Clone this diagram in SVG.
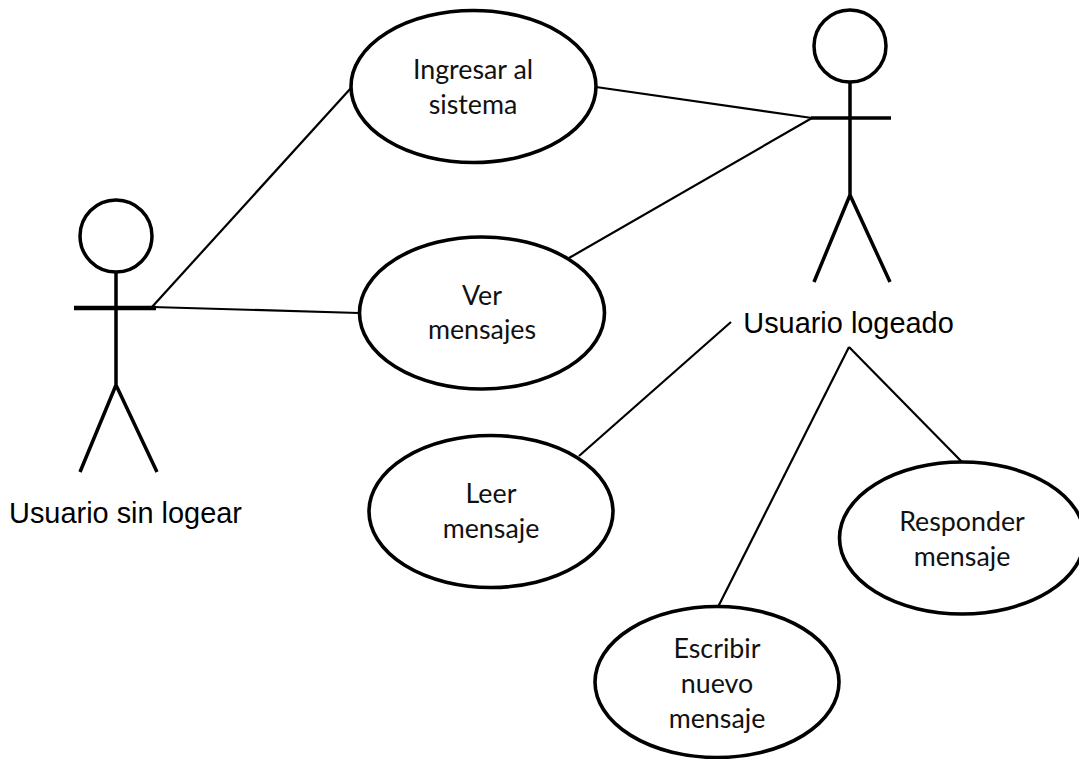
<svg xmlns="http://www.w3.org/2000/svg" width="1079" height="759" viewBox="0 0 1079 759">
<style>
.l{stroke:#000;stroke-width:2.2;fill:none}
.a{stroke:#000;stroke-width:3.5;fill:none}
.b{stroke:#000;stroke-width:4.5;fill:none}
.e{stroke:#000;stroke-width:3.6;fill:#fff}
.t{font-family:Lato,"Open Sans",sans-serif;font-size:26.8px;fill:#111;text-anchor:middle}
.n{font-family:"Liberation Sans",Arial,sans-serif;font-size:28.9px;fill:#000;text-anchor:middle}
</style>
<rect width="1079" height="759" fill="#fff"/>
<g id="connectors">
<line class="l" x1="152" y1="307" x2="351" y2="88"/>
<line class="l" x1="152" y1="307" x2="359" y2="313"/>
<line class="l" x1="596" y1="87" x2="812" y2="118"/>
<line class="l" x1="569" y1="258" x2="812" y2="118"/>
<line class="l" x1="579" y1="456" x2="731" y2="322"/>
<line class="l" x1="718" y1="607" x2="849" y2="347"/>
<line class="l" x1="849" y1="347" x2="962" y2="462"/>
</g>
<g id="actor-sin-logear">
<circle class="a" cx="116" cy="236" r="36"/>
<path class="a" d="M116 272V385M116 385L80 472M116 385L157 472"/>
<path class="b" d="M74 308H156"/>
<text class="n" x="125.500" y="523">Usuario sin logear</text>
</g>
<g id="actor-logeado">
<circle class="a" cx="850" cy="46" r="36"/>
<path class="a" d="M850 82V195M811 118H891M850 195L814 282M850 195L890 282"/>
<text class="n" x="848.500" y="333">Usuario logeado</text>
</g>
<g id="uc-ingresar">
<ellipse class="e" cx="473.500" cy="86.500" rx="122.500" ry="76"/>
<text class="t" x="473" y="79">Ingresar al</text>
<text class="t" x="473" y="114">sistema</text>
</g>
<g id="uc-ver">
<ellipse class="e" cx="482" cy="313" rx="122.500" ry="76"/>
<text class="t" x="482" y="305">Ver</text>
<text class="t" x="482" y="339">mensajes</text>
</g>
<g id="uc-leer">
<ellipse class="e" cx="491" cy="511.500" rx="122" ry="76"/>
<text class="t" x="491" y="503">Leer</text>
<text class="t" x="491" y="538">mensaje</text>
</g>
<g id="uc-responder">
<ellipse class="e" cx="962" cy="538" rx="122.500" ry="76"/>
<text class="t" x="962" y="531">Responder</text>
<text class="t" x="962" y="566">mensaje</text>
</g>
<g id="uc-escribir">
<ellipse class="e" cx="717" cy="682" rx="122" ry="75.500"/>
<text class="t" x="717" y="658">Escribir</text>
<text class="t" x="717" y="693">nuevo</text>
<text class="t" x="717" y="728">mensaje</text>
</g>
</svg>
